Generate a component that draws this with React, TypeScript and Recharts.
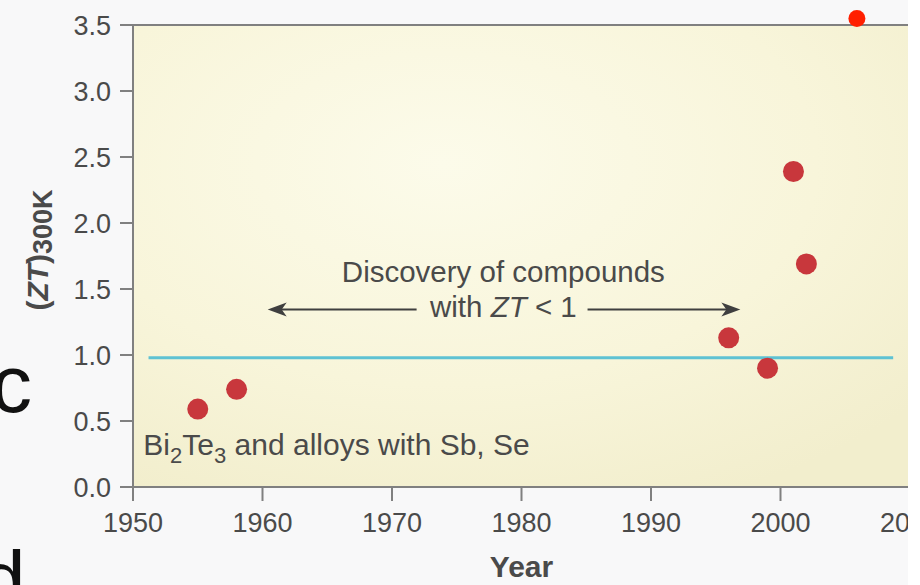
import React from 'react';
import { ScatterChart, Scatter, XAxis, YAxis, ReferenceLine, ReferenceDot, ReferenceArea } from 'recharts';

const years = [1955, 1958, 1996, 1999, 2001, 2002];
const ztValues = [0.59, 0.74, 1.13, 0.9, 2.39, 1.69];
const xTicks = [1950, 1960, 1970, 1980, 1990, 2000, 2010];
const yTicks = [0, 0.5, 1.0, 1.5, 2.0, 2.5, 3.0, 3.5];

// ZT ~ 1 reference line
const refLevel = 0.98;
const refFrom = 1951.2;
const refTo = 2008.7;

// arrow "Discovery of compounds with ZT < 1"
const arrowLevel = 1.345;
const arrowLeft = [1960.4, 1971.9];
const arrowRight = [1985.1, 1996.9];
const discoveryLabel = { x: 1978.6, line1: 1.556, line2: 1.29 };
const alloyLabel = { x: 1950.8, y: 0.243 };
const pointerDot = { x: 2005.9, y: 3.55 };

const data = years.map((year, i) => ({ year, zt: ztValues[i] }));

const FONT = '"Liberation Sans", Arial, Helvetica, sans-serif';
const INK = '#4a4a4a';
const AXIS = '#808080';

const Arrowhead = ({ cx, cy, dir }: any) => {
  const s = dir === 'left' ? 1 : -1;
  const d = `M${cx},${cy} L${cx + s * 19},${cy - 7} L${cx + s * 14},${cy} L${cx + s * 19},${cy + 7} Z`;
  return <path d={d} fill="#3f3f3f" />;
};

const DiscoveryText = ({ cx, cy, line }: any) => (
  <text x={cx} y={cy} textAnchor="middle" fontSize={29.5} fill={INK} fontFamily={FONT}>
    {line === 1 ? (
      'Discovery of compounds'
    ) : (
      <>
        <tspan>with </tspan>
        <tspan fontStyle="italic">ZT</tspan>
        <tspan> &lt; 1</tspan>
      </>
    )}
  </text>
);

const AlloyText = ({ cx, cy }: any) => (
  <text x={cx} y={cy} fontSize={30} fill={INK} fontFamily={FONT}>
    <tspan>Bi</tspan>
    <tspan fontSize={22} dy={8}>2</tspan>
    <tspan dy={-8}>Te</tspan>
    <tspan fontSize={22} dy={8}>3</tspan>
    <tspan dy={-8}> and alloys with Sb, Se</tspan>
  </text>
);

const YLabel = ({ viewBox }: any) => {
  const cy = viewBox.y + viewBox.height / 2 - 6;
  const cx = 48;
  return (
    <text
      x={cx}
      y={cy}
      transform={`rotate(-90 ${cx} ${cy})`}
      textAnchor="middle"
      fontSize={30}
      fontWeight="bold"
      fill={INK}
      fontFamily={FONT}
    >
      <tspan>(</tspan>
      <tspan fontStyle="italic">ZT</tspan>
      <tspan>)</tspan>
      <tspan fontSize={27} dy={4}>300K</tspan>
    </text>
  );
};

const XLabel = ({ viewBox }: any) => (
  <text
    x={viewBox.x + viewBox.width / 2}
    y={577}
    textAnchor="middle"
    fontSize={30}
    fontWeight="bold"
    fill={INK}
    fontFamily={FONT}
  >
    Year
  </text>
);

const ZTChart: React.FC = () => {
  return (
    <div
      style={{
        position: 'absolute',
        left: 0,
        top: 0,
        width: 908,
        height: 585,
        overflow: 'hidden',
        background: '#f8f8f9',
        fontFamily: FONT,
      }}
    >
      <div style={{ position: 'absolute', left: -9, top: 343, fontSize: 82, lineHeight: '82px', color: '#111' }}>c</div>
      <div style={{ position: 'absolute', left: -20, top: 539, fontSize: 82, lineHeight: '82px', color: '#111' }}>d</div>
      <ScatterChart width={1000} height={585} margin={{ top: 25, right: 90, bottom: 0, left: 0 }}>
        <defs>
          <radialGradient id="plotBg" cx="0.4" cy="0.3" r="0.8">
            <stop offset="0%" stopColor="#fcfbea" />
            <stop offset="60%" stopColor="#f8f5da" />
            <stop offset="100%" stopColor="#f2eecd" />
          </radialGradient>
        </defs>
        <ReferenceArea x1={1950} x2={2010} y1={0} y2={3.5} fill="url(#plotBg)" fillOpacity={1} stroke="none" />
        <XAxis
          type="number"
          dataKey="year"
          domain={[1950, 2010]}
          ticks={xTicks}
          height={98}
          tickSize={14}
          tickMargin={12}
          stroke={AXIS}
          strokeWidth={2}
          tick={{ fill: INK, fontSize: 27, fontFamily: FONT }}
          label={<XLabel />}
        />
        <YAxis
          type="number"
          dataKey="zt"
          domain={[0, 3.5]}
          ticks={yTicks}
          width={133}
          tickSize={13}
          tickMargin={9}
          stroke={AXIS}
          strokeWidth={2}
          tick={{ fill: INK, fontSize: 27, fontFamily: FONT }}
          tickFormatter={(v: number) => v.toFixed(1)}
          label={<YLabel />}
        />
        <ReferenceLine y={3.5} stroke={AXIS} strokeWidth={2} />
        <ReferenceLine
          segment={[{ x: refFrom, y: refLevel }, { x: refTo, y: refLevel }]}
          stroke="#5ec2d3"
          strokeWidth={3}
        />
        <ReferenceLine
          segment={[{ x: arrowLeft[0] + 1, y: arrowLevel }, { x: arrowLeft[1], y: arrowLevel }]}
          stroke="#3f3f3f"
          strokeWidth={2}
        />
        <ReferenceLine
          segment={[{ x: arrowRight[0], y: arrowLevel }, { x: arrowRight[1] - 1, y: arrowLevel }]}
          stroke="#3f3f3f"
          strokeWidth={2}
        />
        <ReferenceDot x={arrowLeft[0]} y={arrowLevel} r={0} shape={(p: any) => <Arrowhead {...p} dir="left" />} />
        <ReferenceDot x={arrowRight[1]} y={arrowLevel} r={0} shape={(p: any) => <Arrowhead {...p} dir="right" />} />
        <ReferenceDot x={discoveryLabel.x} y={discoveryLabel.line1} r={0} shape={(p: any) => <DiscoveryText {...p} line={1} />} />
        <ReferenceDot x={discoveryLabel.x} y={discoveryLabel.line2} r={0} shape={(p: any) => <DiscoveryText {...p} line={2} />} />
        <ReferenceDot x={alloyLabel.x} y={alloyLabel.y} r={0} shape={(p: any) => <AlloyText {...p} />} />
        <Scatter data={data} fill="#c8373c" isAnimationActive={false} shape={(p: any) => <circle cx={p.cx} cy={p.cy} r={10.5} fill="#c8373c" />} />
        <ReferenceDot x={pointerDot.x} y={pointerDot.y} r={8.5} fill="#ff1f00" stroke="none" ifOverflow="visible" />
      </ScatterChart>
    </div>
  );
};

export default function App() {
  return <ZTChart />;
}
